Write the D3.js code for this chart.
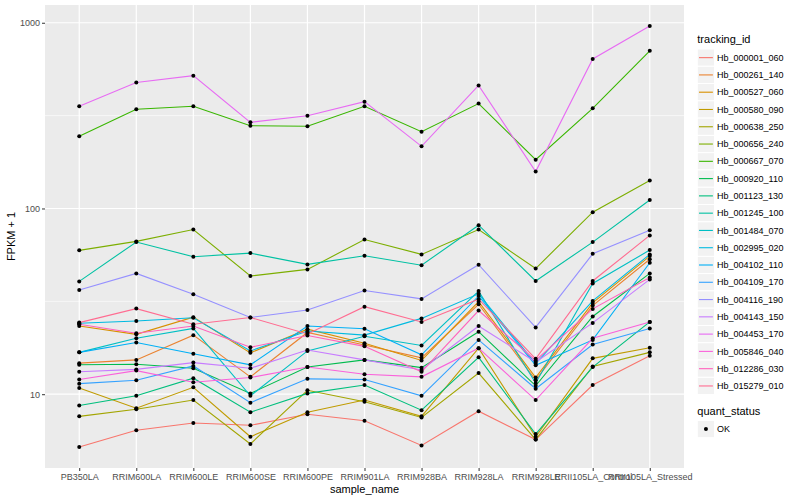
<!DOCTYPE html>
<html>
<head>
<meta charset="utf-8">
<script src="https://cdn.jsdelivr.net/npm/d3@7"></script>
<style>
  body { margin: 0; background: #fff; }
  text { font-family: "Liberation Sans", Arial, Helvetica, sans-serif; }
</style>
</head>
<body>
<svg id="canvas" width="800" height="500"></svg>
<script>
let samples = ['PB350LA', 'RRIM600LA', 'RRIM600LE', 'RRIM600SE', 'RRIM600PE', 'RRIM901LA',
               'RRIM928BA', 'RRIM928LA', 'RRIM928LE', 'RRII105LA_Control', 'RRII105LA_Stressed']

let trackingIds = ['Hb_000001_060', 'Hb_000261_140', 'Hb_000527_060', 'Hb_000580_090', 'Hb_000638_250',
                   'Hb_000656_240', 'Hb_000667_070', 'Hb_000920_110', 'Hb_001123_130', 'Hb_001245_100',
                   'Hb_001484_070', 'Hb_002995_020', 'Hb_004102_110', 'Hb_004109_170', 'Hb_004116_190',
                   'Hb_004143_150', 'Hb_004453_170', 'Hb_005846_040', 'Hb_012286_030', 'Hb_015279_010']

// FPKM + 1, one array per tracking_id, in sample order
let hb000001 = [5.2, 6.4, 7.0, 6.8, 7.8, 7.2, 5.3, 8.1, 5.7, 11.2, 16.1]
let hb000261 = [14.7, 15.3, 20.8, 12.4, 21.5, 18.4, 15.7, 30.5, 11.9, 30.0, 53.3]
let hb000527 = [23.3, 21.0, 26.0, 16.7, 22.4, 18.8, 15.2, 31.5, 12.3, 31.0, 55.4]
let hb000580 = [10.8, 8.4, 10.9, 5.9, 8.0, 9.3, 7.6, 17.7, 5.9, 15.6, 17.8]
let hb000638 = [7.6, 8.3, 9.3, 5.4, 10.5, 9.1, 7.5, 13.0, 5.7, 14.1, 16.8]
let hb000656 = [59.5, 66.5, 77, 43.3, 47, 68, 56.6, 77, 47.5, 95.5, 141.5]
let hb000667 = [245, 342, 355, 279, 277, 355, 259, 367, 183, 346, 706]
let hb000920 = [14.4, 14.5, 13.8, 10.1, 14.0, 15.3, 13.9, 21.7, 11.1, 26.2, 44.7]
let hb001123 = [8.7, 9.8, 12.2, 8.0, 10.1, 11.2, 8.2, 15.8, 6.1, 14.0, 24.5]
let hb001245 = [40.5, 66, 55, 57.5, 50, 55.7, 49.5, 81.3, 40.7, 65.9, 111]
let hb001484 = [16.8, 20.0, 22.6, 9.8, 17.1, 20.5, 18.3, 35.9, 11.5, 39.5, 59.7]
let hb002995 = [24.1, 24.8, 25.8, 17.1, 21.9, 20.8, 25.6, 34.7, 14.6, 31.8, 56.6]
let hb004102 = [16.8, 19.0, 16.5, 14.4, 23.3, 22.5, 16.3, 33.8, 14.3, 19.6, 51.0]
let hb004109 = [11.4, 11.9, 14.2, 9.0, 12.1, 12.0, 9.8, 19.6, 10.7, 18.5, 22.6]
let hb004116 = [36.4, 44.7, 34.5, 25.9, 28.4, 36.2, 32.6, 49.8, 22.9, 57, 76.4]
let hb004143 = [13.2, 13.6, 14.8, 13.8, 17.3, 15.3, 13.5, 23.3, 14.9, 24.2, 41.5]
let hb004453 = [355, 477, 519, 291, 316, 376, 216, 460, 158, 638, 960]
let hb005846 = [12.0, 13.4, 11.6, 12.3, 14.0, 12.8, 12.4, 17.7, 9.3, 20.0, 24.5]
let hb012286 = [23.8, 21.3, 23.3, 17.9, 20.7, 18.1, 13.2, 28.2, 15.2, 28.8, 42.5]
let hb015279 = [24.3, 28.9, 23.8, 25.9, 21.1, 29.6, 24.5, 32.5, 15.5, 40.7, 71.6]

let seriesValues = [hb000001, hb000261, hb000527, hb000580, hb000638, hb000656, hb000667, hb000920,
                    hb001123, hb001245, hb001484, hb002995, hb004102, hb004109, hb004116, hb004143,
                    hb004453, hb005846, hb012286, hb015279]

let yBreaks = [10, 100, 1000]
let quantStatus = ['OK']

// ggplot hue palette, 20 levels
let colors = ['#F8766D', '#EA8331', '#D89000', '#C09B00', '#A3A500', '#7CAE00', '#39B600', '#00BB4E',
              '#00BF7D', '#00C1A3', '#00BFC4', '#00BAE0', '#00B0F6', '#35A2FF', '#9590FF', '#C77CFF',
              '#E76BF3', '#FA62DB', '#FF62BC', '#FF6C91']

let series = trackingIds.map((id, i) => {
    return { id: id, color: colors[i], points: samples.map((s, j) => ({ sample: s, value: seriesValues[i][j] })) }
})

let canvas = d3.select('#canvas')

let panel = { left: 45, right: 684, top: 5, bottom: 468 }

// log scale with ggplot's 5% expansion in log space
let allValues = seriesValues.flat()
let logMin = Math.log10(d3.min(allValues))
let logMax = Math.log10(d3.max(allValues))
let pad = (logMax - logMin) * 0.05

let yScale = d3.scaleLog()
               .domain([Math.pow(10, logMin - pad), Math.pow(10, logMax + pad)])
               .range([panel.bottom, panel.top])

let xScale = d3.scalePoint()
               .domain(samples)
               .range([panel.left, panel.right])
               .padding(0.6)

// panel background
canvas.append('rect')
      .attr('x', panel.left)
      .attr('y', panel.top)
      .attr('width', panel.right - panel.left)
      .attr('height', panel.bottom - panel.top)
      .attr('fill', '#EBEBEB')

// minor grid (midpoints in log space)
let minorBreaks = [Math.sqrt(10), Math.sqrt(1000), Math.sqrt(100000)]
                    .filter((v) => v > yScale.domain()[0] && v < yScale.domain()[1])

canvas.selectAll('.minor')
      .data(minorBreaks)
      .enter()
      .append('line')
      .attr('x1', panel.left)
      .attr('x2', panel.right)
      .attr('y1', (d) => yScale(d))
      .attr('y2', (d) => yScale(d))
      .attr('stroke', '#fff')
      .attr('stroke-width', 0.6)

canvas.selectAll('.hmajor')
      .data(yBreaks)
      .enter()
      .append('line')
      .attr('x1', panel.left)
      .attr('x2', panel.right)
      .attr('y1', (d) => yScale(d))
      .attr('y2', (d) => yScale(d))
      .attr('stroke', '#fff')
      .attr('stroke-width', 1.2)

canvas.selectAll('.vmajor')
      .data(samples)
      .enter()
      .append('line')
      .attr('x1', (d) => xScale(d))
      .attr('x2', (d) => xScale(d))
      .attr('y1', panel.top)
      .attr('y2', panel.bottom)
      .attr('stroke', '#fff')
      .attr('stroke-width', 1.2)

// lines
let line = d3.line()
             .x((p) => xScale(p.sample))
             .y((p) => yScale(p.value))

canvas.selectAll('.series')
      .data(series)
      .enter()
      .append('path')
      .attr('d', (s) => line(s.points))
      .attr('fill', 'none')
      .attr('stroke', (s) => s.color)
      .attr('stroke-width', 1.1)

// points
canvas.selectAll('.pt')
      .data(series.flatMap((s) => s.points))
      .enter()
      .append('circle')
      .attr('cx', (p) => xScale(p.sample))
      .attr('cy', (p) => yScale(p.value))
      .attr('r', 2)
      .attr('fill', '#000')

// axes
let yAxis = d3.axisLeft(yScale)
              .tickValues(yBreaks)
              .tickFormat(d3.format('d'))
              .tickSize(3)
              .tickPadding(2)

let xAxis = d3.axisBottom(xScale)
              .tickSize(3)
              .tickPadding(3)

let yG = canvas.append('g')
               .attr('transform', 'translate(' + panel.left + ',0)')
               .call(yAxis)

let xG = canvas.append('g')
               .attr('transform', 'translate(0,' + panel.bottom + ')')
               .call(xAxis)

let styleAxis = (g) => {
    g.select('.domain').remove()
    g.selectAll('.tick line').attr('stroke', '#333333').attr('stroke-width', 1)
    g.selectAll('.tick text')
     .attr('fill', '#4D4D4D')
     .style('font-size', '9px')
     .style('font-family', '"Liberation Sans", Arial, sans-serif')
}
styleAxis(yG)
styleAxis(xG)

canvas.append('text')
      .attr('x', (panel.left + panel.right) / 2)
      .attr('y', 493)
      .attr('text-anchor', 'middle')
      .style('font-size', '11px')
      .text('sample_name')

canvas.append('text')
      .attr('transform', 'translate(15,' + (panel.top + panel.bottom) / 2 + ') rotate(-90)')
      .attr('text-anchor', 'middle')
      .style('font-size', '11px')
      .text('FPKM + 1')

// legend: tracking_id
let keySize = 17.28
let legendX = 697.3
let legendTop = 49

canvas.append('text')
      .attr('x', legendX)
      .attr('y', 43)
      .style('font-size', '11px')
      .text('tracking_id')

let keys = canvas.selectAll('.key')
                 .data(series)
                 .enter()
                 .append('g')
                 .attr('transform', (s, i) => 'translate(' + legendX + ',' + (legendTop + i * keySize) + ')')

keys.append('rect')
    .attr('width', keySize)
    .attr('height', keySize)
    .attr('fill', '#F2F2F2')
    .attr('stroke', '#fff')
    .attr('stroke-width', 1)

keys.append('line')
    .attr('x1', 1.7)
    .attr('x2', keySize - 1.7)
    .attr('y1', keySize / 2)
    .attr('y2', keySize / 2)
    .attr('stroke', (s) => s.color)
    .attr('stroke-width', 1.1)

keys.append('text')
    .attr('x', keySize + 2.5)
    .attr('y', keySize / 2)
    .attr('dy', '0.35em')
    .style('font-size', '9px')
    .text((s) => s.id)

// legend: quant_status
canvas.append('text')
      .attr('x', legendX)
      .attr('y', 415)
      .style('font-size', '11px')
      .text('quant_status')

let qKeys = canvas.selectAll('.qkey')
                  .data(quantStatus)
                  .enter()
                  .append('g')
                  .attr('transform', (d, i) => 'translate(' + legendX + ',' + (420.4 + i * keySize) + ')')

qKeys.append('rect')
     .attr('width', keySize)
     .attr('height', keySize)
     .attr('fill', '#F2F2F2')
     .attr('stroke', '#fff')

qKeys.append('circle')
     .attr('cx', keySize / 2)
     .attr('cy', keySize / 2)
     .attr('r', 2)
     .attr('fill', '#000')

qKeys.append('text')
     .attr('x', keySize + 2.5)
     .attr('y', keySize / 2)
     .attr('dy', '0.35em')
     .style('font-size', '9px')
     .text((d) => d)
</script>
</body>
</html>
